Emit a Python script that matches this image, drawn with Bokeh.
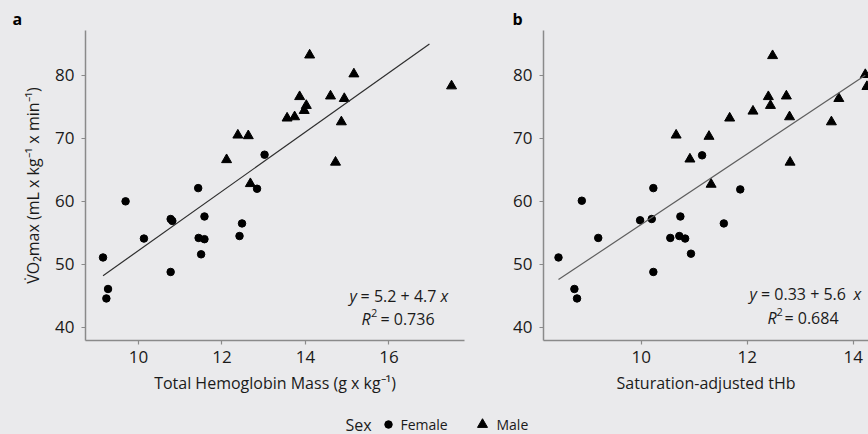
from bokeh.plotting import figure
from bokeh.layouts import column, row
from bokeh.models import Range1d, Label, FixedTicker, GlobalInlineStyleSheet
from bokeh.core.properties import value
from bokeh.embed import file_html
from bokeh.resources import INLINE

# ---------------- data ----------------
# Panel a: total hemoglobin mass (g/kg) vs VO2max
thb_female = [9.15, 9.69, 9.27, 9.23, 10.13, 10.77, 10.81, 10.77, 11.43, 11.58, 11.44, 11.58, 11.50, 12.48, 12.42, 12.84, 13.02]
vo2_female_a = [51.1, 60.0, 46.1, 44.6, 54.1, 57.2, 56.9, 48.8, 62.1, 57.6, 54.2, 54.0, 51.6, 56.5, 54.5, 62.0, 67.4]
thb_male = [12.68, 12.11, 12.38, 12.63, 14.10, 15.16, 13.86, 14.60, 14.93, 14.02, 13.97, 13.56, 13.74, 14.86, 14.72, 17.50]
vo2_male_a = [62.8, 66.6, 70.5, 70.4, 83.2, 80.2, 76.6, 76.7, 76.3, 75.2, 74.4, 73.2, 73.4, 72.6, 66.2, 78.3]

# Panel b: saturation-adjusted tHb vs VO2max
sat_female = [8.44, 8.88, 8.74, 8.79, 9.19, 9.98, 10.20, 10.23, 10.23, 10.74, 10.55, 10.72, 10.83, 10.94, 11.56, 11.15, 11.87]
vo2_female_b = [51.1, 60.1, 46.1, 44.6, 54.2, 57.0, 57.2, 48.8, 62.1, 57.6, 54.2, 54.5, 54.1, 51.7, 56.5, 67.3, 61.9]
sat_male = [11.32, 10.92, 10.66, 11.28, 11.67, 12.11, 12.48, 12.40, 12.44, 12.74, 12.80, 12.81, 13.59, 13.73, 14.23, 14.26]
vo2_male_b = [62.7, 66.7, 70.5, 70.3, 73.2, 74.3, 83.1, 76.6, 75.2, 76.7, 73.4, 66.2, 72.6, 76.3, 80.1, 78.2]

# regression fits (intercept, slope) and x-extent of drawn lines
fit_a = (5.2, 4.7)
fit_a_x = [9.15, 16.97]
fit_b = (0.33, 5.6)
fit_b_x = [8.44, 14.23]

x_ticks_a = [10, 12, 14, 16]
x_ticks_b = [10, 12, 14]
y_ticks = [40, 50, 60, 70, 80]

sexes = ["Female", "Male"]
sex_markers = ["circle", "triangle"]

eq_a = ("y", "= 5.2 + 4.7", "x", "R", "2", "= 0.736")
eq_b = ("y", "= 0.33 + 5.6", "x", "R", "2", "= 0.684")

# ---------------- styling ----------------
BG = "#EAEAEC"
FONT = "Open Sans"
AXIS_COL = "#8a8a8a"
TXT = "#1a1a1a"

YR = (37.93, 87.1)
FRAME_H = 310
TOP = 30
FIG_H = 403


def make_panel(width, left, right, xr, xticks, xlabel, ylabel, tag, tag_offset):
    p = figure(width=width, height=FIG_H, x_range=Range1d(*xr), y_range=Range1d(*YR),
               output_backend="svg", toolbar_location=None,
               min_border_left=left, min_border_right=right,
               min_border_top=TOP, min_border_bottom=FIG_H - TOP - FRAME_H)
    p.background_fill_color = BG
    p.border_fill_color = BG
    p.outline_line_color = None
    p.grid.visible = False
    p.title.text = tag
    p.title.align = "left"
    p.title.offset = tag_offset
    p.title.text_font = FONT
    p.title.text_font_size = "16px"
    p.title.text_font_style = "bold"
    p.title.text_color = "black"
    p.title.standoff = 2
    for ax in (p.xaxis[0], p.yaxis[0]):
        ax.axis_line_color = AXIS_COL
        ax.axis_line_width = 1.5
        ax.major_tick_line_color = AXIS_COL
        ax.major_tick_line_width = 1.2
        ax.major_tick_out = 4
        ax.major_tick_in = 0
        ax.minor_tick_line_color = None
        ax.major_label_text_font = FONT
        ax.major_label_text_font_size = "17px"
        ax.major_label_text_color = TXT
        ax.axis_label_text_font = FONT
        ax.axis_label_text_font_size = "16px"
        ax.axis_label_text_font_style = "normal"
        ax.axis_label_text_color = TXT
    p.xaxis[0].ticker = FixedTicker(ticks=xticks)
    p.yaxis[0].ticker = FixedTicker(ticks=y_ticks)
    p.xaxis[0].major_label_standoff = 6
    p.yaxis[0].major_label_standoff = 7
    p.xaxis[0].axis_label = xlabel
    p.xaxis[0].axis_label_standoff = 6
    if ylabel:
        p.yaxis[0].axis_label = ylabel
        p.yaxis[0].axis_label_standoff = 8
    return p


def converter(xr, left_ref, frame_w):
    def cx(xref):
        return xr[0] + (xref - left_ref) * (xr[1] - xr[0]) / frame_w

    def cy(yref):
        return YR[0] + (340 - yref) * (YR[1] - YR[0]) / FRAME_H
    return cx, cy


def add_points(p, xf, yf, xm, ym, fit, fit_x, line_col):
    p.scatter(xf, yf, marker=sex_markers[0], size=7.5, color="black")
    p.scatter(xm, ym, marker=sex_markers[1], size=10, color="black")
    p.line(fit_x, [fit[0] + fit[1] * v for v in fit_x], line_color=line_col, line_width=1.2)


def add_equation(p, cx, cy, eq, pos):
    (y_left, mid_c, x_left, ey, r_left, sup_left, r_mid_c, ry) = pos
    kw = dict(text_font=FONT, text_color=TXT, text_baseline="middle")
    p.add_layout(Label(x=cx(y_left), y=cy(ey), text=eq[0], text_font_style="italic",
                       text_align="left", text_font_size="16px", **kw))
    p.add_layout(Label(x=cx(mid_c), y=cy(ey), text=eq[1], text_align="center",
                       text_font_size="16px", **kw))
    p.add_layout(Label(x=cx(x_left), y=cy(ey), text=eq[2], text_font_style="italic",
                       text_align="left", text_font_size="16px", **kw))
    p.add_layout(Label(x=cx(r_left), y=cy(ry), text=eq[3], text_font_style="italic",
                       text_align="left", text_font_size="16px", **kw))
    p.add_layout(Label(x=cx(sup_left), y=cy(ry - 6), text=eq[4], text_align="left",
                       text_font_size="11px", **kw))
    p.add_layout(Label(x=cx(r_mid_c), y=cy(ry), text=eq[5], text_align="center",
                       text_font_size="16px", **kw))


# ---------------- panel a ----------------
XR_A = (8.73, 17.81)
pa = make_panel(468, 85, 4, XR_A, x_ticks_a,
                "Total Hemoglobin Mass (g x kg\u207b\u00b9)",
                "V\u0307O\u2082max (mL x kg\u207b\u00b9 x min\u207b\u00b9)", "a", -73)
add_points(pa, thb_female, vo2_female_a, thb_male, vo2_male_a, fit_a, fit_a_x, "#2e2e2e")
cxa, cya = converter(XR_A, 85, 379)
add_equation(pa, cxa, cya, eq_a, (349, 398, 440, 295, 361, 370.5, 407, 318))

# ---------------- panel b ----------------
XR_B = (8.157, 14.29)
pb = make_panel(400, 75, 0, XR_B, x_ticks_b, "Saturation-adjusted tHb", None, "b", -31)
add_points(pb, sat_female, vo2_female_b, sat_male, vo2_male_b, fit_b, fit_b_x, "#5e5e5e")
cxb, cyb = converter(XR_B, 543, 325)
add_equation(pb, cxb, cyb, eq_b, (749, 803, 853, 293, 767, 776, 811, 317))

# ---------------- legend strip ----------------
pl = figure(width=868, height=31, x_range=Range1d(0, 868), y_range=Range1d(31, 0),
            output_backend="svg", toolbar_location=None,
            x_axis_location=None, y_axis_location=None,
            min_border_left=0, min_border_right=0, min_border_top=0, min_border_bottom=0)
pl.background_fill_color = BG
pl.border_fill_color = BG
pl.outline_line_color = None
pl.grid.visible = False
leg_y = 21
pl.text(x=[345], y=[leg_y], text=["Sex"], text_font=value(FONT), text_font_size="16px",
        text_color=TXT, text_baseline="middle", text_align="left")
marker_x = [388, 482]
label_x = [400, 496]
for sx, mk, mx, lx, sz in zip(sexes, sex_markers, marker_x, label_x, [7.5, 10]):
    pl.scatter([mx], [leg_y], marker=mk, size=sz, color="black")
    pl.text(x=[lx], y=[leg_y], text=[sx], text_font=value(FONT), text_font_size="14px",
            text_color=TXT, text_baseline="middle", text_align="left")

layout = column(row(pa, pb), pl)
layout.stylesheets = [GlobalInlineStyleSheet(css="body { background: #EAEAEC; }")]

open("out.html", "w").write(file_html(layout, INLINE))
